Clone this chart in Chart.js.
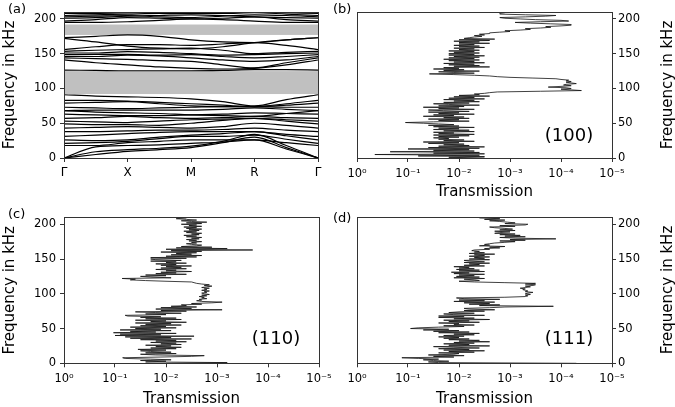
<!DOCTYPE html>
<html>
<head>
<meta charset="utf-8">
<script src="https://cdn.jsdelivr.net/npm/chart.js@4.4.0/dist/chart.umd.min.js"></script>
<style>
body { margin: 0; background: #fff; width: 675px; height: 407px; position: relative; overflow: hidden; font-family: "DejaVu Sans", sans-serif; }
canvas { position: absolute; }
.lbl { position: absolute; font-size: 13px; line-height: 1; color: #000; }
.dir { position: absolute; font-size: 18px; line-height: 1; color: #000; transform: translate(-50%, -50%); }
.rt { position: absolute; font-size: 15px; line-height: 1; color: #000; white-space: nowrap; transform: translate(-50%, -50%) rotate(-90deg); }
</style>
</head>
<body>
<canvas id="chart-a" width="337" height="200" style="left:0;top:0"></canvas>
<canvas id="chart-b" width="338" height="200" style="left:337px;top:0"></canvas>
<canvas id="chart-c" width="337" height="207" style="left:0;top:200px"></canvas>
<canvas id="chart-d" width="338" height="207" style="left:337px;top:200px"></canvas>
<div class="lbl" style="left:8px;top:2px">(a)</div>
<div class="lbl" style="left:333px;top:2px">(b)</div>
<div class="lbl" style="left:8px;top:207px">(c)</div>
<div class="lbl" style="left:333px;top:211px">(d)</div>
<div class="dir" style="left:569px;top:135px">(100)</div>
<div class="dir" style="left:276px;top:338px">(110)</div>
<div class="dir" style="left:569px;top:338px">(111)</div>
<div class="rt" style="left:667px;top:85px">Frequency in kHz</div>
<div class="rt" style="left:667px;top:290px">Frequency in kHz</div>
<script>
'use strict';
// band structure: path points Γ - X - M - R - Γ (with midpoints)
var pathLabels = ['Γ', 'X', 'M', 'R', 'Γ'];
var kPath = [0, 0.5, 1, 1.5, 2, 2.5, 3, 3.5, 4];
var gapLow = [92, 177];
var gapHigh = [125, 192];

var bandsLow = [
    [0, 5, 9.6, 12, 15, 22, 30, 15, 0],
    [0, 9, 12, 14, 17, 24, 34, 18, 0],
    [0, 16, 18, 19, 21, 23, 26, 13, 0],
    [18, 18, 22, 24, 26, 26, 26, 22, 18],
    [21, 22, 24, 28, 31, 31, 33, 27, 21],
    [26, 25, 26, 30, 33, 35, 38, 32, 26],
    [31, 33, 35, 37, 38, 38, 38, 34, 31],
    [38, 38, 39, 40, 40, 41, 43, 40, 38],
    [43, 44, 45, 44, 43, 45, 50, 47, 43],
    [49, 48, 48, 47, 50, 54, 57, 53, 49],
    [53, 52, 51, 53, 55, 56, 57, 55, 53],
    [57, 58, 60, 58, 57, 58, 60, 58, 57],
    [63, 62, 61, 61, 62, 63, 65, 64, 63],
    [68, 66, 65, 64, 62, 61, 60, 64, 68],
    [68, 69, 69, 69, 69, 70, 72, 70, 68],
    [73, 72, 71, 72, 73, 74, 74, 73, 73],
    [79, 80, 81, 78, 75, 74, 74, 76, 79],
    [83, 83, 82, 80, 78, 76, 74, 78, 83],
    [91, 89, 88, 87, 85, 81, 75, 84, 91]
];
var bandsMid = [
    [126.5, 126, 125.5, 125.5, 125.5, 126, 127, 127, 126.5],
    [141, 137, 134, 131, 129, 128, 129, 134, 141],
    [144, 143, 142, 140, 139, 134, 129.5, 137, 144],
    [146, 146, 148, 147, 144, 141, 139, 141, 146],
    [148.7, 149, 149, 148, 148.7, 146, 144, 146, 148.7],
    [151, 151, 153, 152, 150, 148, 148.7, 150, 151],
    [153.5, 155, 156, 157, 158, 155, 150, 152, 153.5],
    [156, 160, 163, 163, 162, 164, 166, 162, 156],
    [172, 167, 161, 158, 157, 160, 166, 170, 173],
    [173, 175, 177, 175, 170, 167, 166, 170, 173]
];
var bandsHigh = [
    [195, 195, 196, 198, 200, 199, 197, 195, 195],
    [197, 199, 202, 201, 200, 201, 203, 199, 197],
    [201, 202, 204, 205, 206, 205, 203, 202, 201],
    [203, 204, 205, 203, 202, 204, 206, 205, 203],
    [205, 206, 207, 208, 208, 208, 209, 207, 205],
    [208, 208, 209, 210, 210, 210, 210, 209, 208]
];

// transmission spectra: frequency (kHz) and log10 of transmission
var freqKHz = [
    0, 1, 2, 3, 4, 5, 6, 7, 8, 9, 10, 11, 12, 13, 14, 15, 16, 17, 18, 19,
    20, 21, 22, 23, 24, 25, 26, 27, 28, 29, 30, 31, 32, 33, 34, 35, 36, 37, 38, 39,
    40, 41, 42, 43, 44, 45, 46, 47, 48, 49, 50, 51, 52, 53, 54, 55, 56, 57, 58, 59,
    60, 61, 62, 63, 64, 65, 66, 67, 68, 69, 70, 71, 72, 73, 74, 75, 76, 77, 78, 79,
    80, 81, 82, 83, 84, 85, 86, 87, 88, 89, 90, 91, 92, 93, 94, 95, 96, 97, 98, 99,
    100, 101, 102, 103, 104, 105, 106, 107, 108, 109, 110, 111, 112, 113, 114, 115, 116, 117, 118, 119,
    120, 121, 122, 123, 124, 125, 126, 127, 128, 129, 130, 131, 132, 133, 134, 135, 136, 137, 138, 139,
    140, 141, 142, 143, 144, 145, 146, 147, 148, 149, 150, 151, 152, 153, 154, 155, 156, 157, 158, 159,
    160, 161, 162, 163, 164, 165, 166, 167, 168, 169, 170, 171, 172, 173, 174, 175, 176, 177, 178, 179,
    180, 181, 182, 183, 184, 185, 186, 187, 188, 189, 190, 191, 192, 193, 194, 195, 196, 197, 198, 199,
    200, 201, 202, 203, 204, 205, 206, 207, 208, 209
];
var logT100 = [
    -2.5, -1.8, -2.5, -1.2, -2.4, -0.35, -2.5, -1.5, -2.4, -0.65,
    -2.3, -1.5, -2.2, -1.0, -2.4, -1.4, -2.5, -1.6, -2.2, -1.7,
    -2.1, -1.4, -2.0, -1.3, -2.3, -1.7, -2.1, -1.6, -1.8, -1.5,
    -2.0, -1.6, -2.2, -1.5, -2.3, -1.6, -1.9, -1.5, -2.3, -1.7,
    -2.2, -1.5, -2.0, -1.6, -2.3, -1.5, -2.0, -1.4, -1.9, -1.6,
    -1.3, -0.95, -1.5, -2.2, -1.6, -2.0, -1.4, -2.2, -1.7, -2.1,
    -1.3, -1.9, -1.5, -2.3, -1.6, -2.0, -1.4, -2.2, -1.7, -1.4,
    -2.3, -1.6, -2.0, -1.3, -2.1, -1.6, -2.4, -1.8, -1.5, -2.2,
    -1.7, -2.4, -1.9, -2.3, -1.7, -2.5, -1.8, -2.3, -1.9, -2.6,
    -2.0, -2.4, -2.3, -2.5, -2.6, -2.75, -3.6, -4.4, -4.2, -4.0,
    -4.2, -4.1, -3.75, -4.0, -4.2, -4.05, -4.1, -4.3, -4.2, -4.1,
    -4.2, -4.1, -4.15, -4.0, -3.9, -3.45, -3.0, -2.75, -2.6, -2.3,
    -1.9, -1.42, -2.3, -1.9, -1.6, -2.4, -1.7, -2.1, -1.5, -2.0,
    -1.7, -2.6, -1.9, -2.4, -1.8, -2.3, -1.7, -2.5, -1.9, -2.3,
    -1.8, -2.4, -1.7, -2.3, -1.8, -2.4, -1.9, -2.5, -1.8, -2.3,
    -1.8, -2.4, -1.9, -2.3, -1.8, -2.4, -2.0, -2.3, -1.9, -2.5,
    -2.0, -2.4, -1.9, -2.3, -2.0, -2.6, -2.0, -2.4, -1.9, -2.6,
    -2.0, -2.7, -2.1, -2.2, -2.3, -2.45, -2.3, -2.5, -2.4, -2.6,
    -2.6, -2.8, -3.0, -2.9, -3.2, -3.4, -3.3, -3.6, -3.8, -3.7,
    -4.0, -4.2, -4.2, -3.8, -3.4, -3.1, -3.6, -4.15, -4.0, -3.5,
    -3.2, -2.9, -2.8, -3.3, -3.7, -3.9, -3.3, -2.8, -2.8, -2.9
];
var logT110 = [
    -2.0, -3.2, -1.6, -2.0, -1.5, -2.1, -1.7, -1.2, -1.15, -1.9,
    -2.5, -2.75, -1.8, -1.5, -2.2, -1.6, -2.1, -1.7, -1.5, -2.0,
    -1.45, -2.2, -1.7, -2.3, -1.8, -2.1, -1.6, -2.3, -1.9, -2.2,
    -1.7, -2.4, -1.8, -2.2, -1.5, -2.5, -1.3, -2.1, -1.2, -2.55,
    -1.0, -1.9, -1.1, -2.2, -0.97, -1.8, -1.3, -2.1, -1.1, -1.9,
    -1.4, -2.2, -1.3, -2.0, -1.5, -2.3, -1.6, -2.1, -1.4, -2.4,
    -1.7, -2.0, -1.4, -2.3, -1.6, -2.2, -1.5, -1.9, -1.25, -1.2,
    -2.0, -1.6, -2.3, -1.8, -1.4, -2.4, -1.9, -3.1, -1.8, -2.5,
    -1.9, -2.6, -2.1, -2.4, -2.3, -2.7, -2.5, -2.9, -3.1, -2.7,
    -2.6, -2.7, -2.65, -2.8, -2.7, -2.75, -2.65, -2.8, -2.7, -2.85,
    -2.75, -2.7, -2.8, -2.75, -2.85, -2.7, -2.8, -2.75, -2.85, -2.7,
    -2.8, -2.9, -2.75, -2.85, -2.7, -2.6, -2.55, -2.5, -2.0, -1.6,
    -1.3, -1.4, -1.14, -2.1, -1.7, -1.5, -2.0, -1.6, -2.4, -1.8,
    -2.2, -1.9, -2.5, -2.0, -2.2, -1.8, -2.4, -1.9, -2.3, -2.0,
    -2.5, -1.9, -2.2, -1.8, -2.4, -2.0, -2.2, -1.7, -2.3, -1.8,
    -1.7, -2.4, -1.7, -2.6, -2.0, -2.7, -2.1, -2.5, -2.2, -2.6,
    -1.9, -2.7, -2.1, -3.7, -2.0, -3.2, -2.2, -2.9, -2.3, -2.6,
    -2.7, -2.5, -2.4, -2.6, -2.5, -2.7, -2.45, -2.6, -2.4, -2.65,
    -2.5, -2.7, -2.4, -2.6, -2.35, -2.65, -2.5, -2.7, -2.4, -2.6,
    -2.35, -2.65, -2.45, -2.7, -2.4, -2.6, -2.35, -2.7, -2.45, -2.6,
    -2.3, -2.7, -2.4, -2.8, -2.5, -2.3, -2.6, -2.4, -2.2, -2.4
];
var logT111 = [
    -4.3, -1.6, -1.4, -1.8, -1.5, -1.3, -1.6, -1.2, -0.88, -1.9,
    -1.5, -2.1, -1.4, -1.9, -2.0, -1.6, -2.3, -1.8, -2.5, -1.7,
    -2.2, -1.6, -2.4, -1.9, -1.5, -2.6, -1.8, -2.2, -1.7, -2.3,
    -1.9, -2.6, -2.0, -2.4, -1.8, -2.2, -1.7, -2.0, -1.6, -2.1,
    -1.7, -2.3, -1.9, -2.4, -1.6, -2.2, -1.5, -2.0, -1.3, -1.8,
    -1.05, -1.2, -1.6, -2.1, -1.7, -2.3, -1.9, -2.0, -1.6, -2.4,
    -1.8, -2.2, -1.7, -2.6, -1.9, -2.3, -1.6, -2.1, -1.6, -2.5,
    -1.9, -1.7, -2.3, -1.8, -2.0, -2.5, -2.1, -2.7, -2.2, -2.1,
    -2.6, -2.9, -3.85, -2.4, -2.8, -2.2, -2.6, -2.1, -2.7, -1.9,
    -2.5, -2.0, -2.8, -2.1, -1.95, -2.9, -3.3, -3.35, -3.3, -3.4,
    -3.3, -3.35, -3.45, -3.3, -3.35, -3.3, -3.25, -3.3, -3.2, -3.3,
    -3.4, -3.3, -3.45, -3.5, -3.3, -3.5, -2.9, -2.3, -2.0, -2.4,
    -2.3, -2.1, -2.5, -1.9, -2.4, -1.95, -2.3, -2.0, -2.5, -1.9,
    -2.2, -1.85, -2.5, -2.0, -2.4, -1.95, -2.3, -2.0, -2.2, -1.9,
    -2.5, -2.1, -2.4, -2.2, -2.6, -2.1, -2.5, -2.2, -2.1, -2.6,
    -2.2, -2.5, -2.3, -2.6, -2.2, -2.5, -2.3, -2.7, -2.2, -2.5,
    -2.3, -2.4, -2.25, -2.3, -2.6, -2.5, -2.8, -2.6, -2.9, -2.4,
    -2.6, -2.5, -2.6, -2.7, -2.9, -3.1, -2.8, -3.3, -3.0, -3.9,
    -3.1, -2.8, -3.3, -2.9, -3.2, -2.8, -3.1, -2.7, -2.8, -3.0,
    -2.7, -3.1, -2.8, -3.05, -2.9, -2.7, -2.6, -3.1, -2.8, -3.3,
    -3.35, -2.9, -3.1, -2.95, -2.8, -2.6, -2.9, -2.5, -2.8, -2.4
];

var axisColor = '#333';
var tickFont = { family: 'DejaVu Sans', size: 11.5 };
var titleFont = { family: 'DejaVu Sans', size: 15, lineHeight: 1 };
var sup = { '0': '⁰', '1': '¹', '2': '²', '3': '³', '4': '⁴', '5': '⁵', '-': '⁻' };

function powLabel(v) {
    return '10' + String(v).split('').map(function (c) { return sup[c]; }).join('');
}

// draw a box round the plot area like the matplotlib spines
var framePlugin = {
    id: 'frame',
    afterDraw: function (chart) {
        var a = chart.chartArea, ctx = chart.ctx;
        ctx.save();
        ctx.strokeStyle = axisColor;
        ctx.lineWidth = 1;
        ctx.strokeRect(Math.round(a.left) + 0.5, Math.round(a.top) + 0.5, Math.round(a.right - a.left), Math.round(a.bottom - a.top));
        ctx.restore();
    }
};

// grey band gaps in the dispersion plot
var gapPlugin = {
    id: 'gaps',
    beforeDatasetsDraw: function (chart) {
        var a = chart.chartArea, ctx = chart.ctx, ys = chart.scales.y;
        ctx.save();
        ctx.fillStyle = '#c0c0c0';
        for (var i = 0; i < gapLow.length; i++) {
            var top = ys.getPixelForValue(gapHigh[i]);
            var bot = ys.getPixelForValue(gapLow[i]);
            ctx.fillRect(a.left, top, a.right - a.left, bot - top);
        }
        ctx.restore();
    }
};

function freqAxis(position, width, showTitle) {
    return {
        type: 'linear', position: position, min: 0, max: 210,
        afterFit: function (s) { s.width = width; },
        border: { display: false },
        grid: { drawOnChartArea: false, drawTicks: true, tickLength: 4, tickColor: axisColor },
        ticks: { stepSize: 50, includeBounds: false, color: '#000', font: tickFont, padding: position === 'left' ? 4 : 2 },
        title: { display: showTitle, text: 'Frequency in kHz', color: '#000', font: titleFont, padding: { top: 2.5, bottom: 0 } }
    };
}

function transAxis(height) {
    return {
        type: 'linear', position: 'bottom', min: -5, max: 0, reverse: true,
        afterFit: function (s) { s.height = height; },
        border: { display: false },
        grid: { drawOnChartArea: false, drawTicks: true, tickLength: 4, tickColor: axisColor },
        ticks: { stepSize: 1, color: '#000', font: tickFont, padding: 5, maxRotation: 0, callback: function (v) { return powLabel(v); } },
        title: { display: true, text: 'Transmission', color: '#000', font: titleFont, padding: { top: 0, bottom: 0 } }
    };
}

function spectrumPoints(logT) {
    return logT.map(function (v, i) { return { x: v, y: freqKHz[i] }; });
}

function makeSpectrum(id, logT, yPos, pad, yWidth, xHeight) {
    new Chart(document.getElementById(id), {
        type: 'scatter',
        data: {
            datasets: [{
                data: spectrumPoints(logT),
                showLine: true, borderColor: '#111', borderWidth: 0.8,
                pointRadius: 0, tension: 0
            }]
        },
        options: {
            responsive: false, animation: false, devicePixelRatio: 1,
            layout: { padding: pad },
            plugins: { legend: { display: false }, tooltip: { enabled: false } },
            scales: { x: transAxis(xHeight), y: freqAxis(yPos, yWidth, yPos === 'left') }
        },
        plugins: [framePlugin]
    });
}

// (a) dispersion relation
var bandSets = [];
bandsLow.concat(bandsMid, bandsHigh).forEach(function (band) {
    bandSets.push({
        data: band.map(function (f, i) { return { x: kPath[i], y: f }; }),
        showLine: true, borderColor: '#000', borderWidth: 1.2,
        pointRadius: 0, cubicInterpolationMode: 'monotone'
    });
});

new Chart(document.getElementById('chart-a'), {
    type: 'scatter',
    data: { datasets: bandSets },
    options: {
        responsive: false, animation: false, devicePixelRatio: 1,
        layout: { padding: { top: 12, right: 19, left: 0, bottom: 0 } },
        plugins: { legend: { display: false }, tooltip: { enabled: false } },
        scales: {
            x: {
                type: 'linear', min: 0, max: 4,
                afterFit: function (s) { s.height = 42; },
                border: { display: false },
                grid: { drawOnChartArea: false, drawTicks: true, tickLength: 4, tickColor: axisColor },
                ticks: { stepSize: 1, color: '#000', font: { family: 'DejaVu Sans', size: 12 }, padding: 4,
                    callback: function (v) { return pathLabels[v]; } }
            },
            y: freqAxis('left', 64, true)
        }
    },
    plugins: [gapPlugin, framePlugin]
});

makeSpectrum('chart-b', logT100, 'right', { top: 12, left: 20, right: 0, bottom: 0 }, 63, 42);
makeSpectrum('chart-c', logT110, 'left', { top: 17.3, left: 0, right: 18, bottom: 0 }, 64, 43.7);
makeSpectrum('chart-d', logT111, 'right', { top: 17.3, left: 20, right: 0, bottom: 0 }, 63, 43.7);
</script>
</body>
</html>
